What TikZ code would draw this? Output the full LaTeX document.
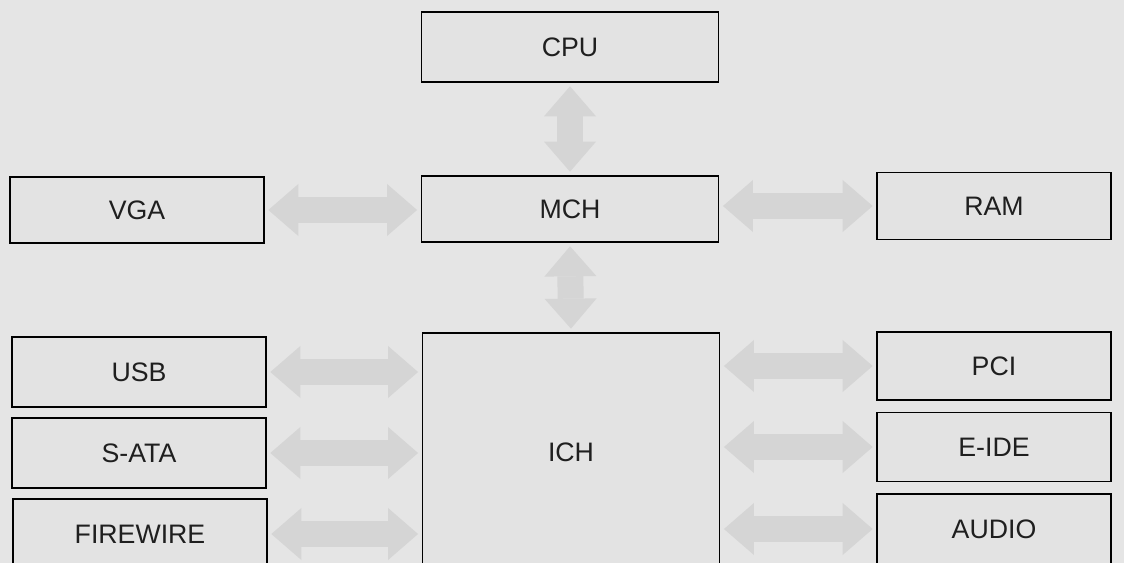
\documentclass[tikz,border=0pt]{standalone}
\usepackage{fontspec}
\setmainfont{Liberation Sans}
\usetikzlibrary{arrows.meta}

\definecolor{paper}{gray}{0.9}
\definecolor{boxgray}{gray}{0.89}
\definecolor{busgray}{gray}{0.835}
\definecolor{inkgray}{gray}{0.12}

\tikzset{
  box/.style={draw=black, line width=1pt, fill=boxgray, text=inkgray,
    font=\fontsize{19}{22}\selectfont, inner sep=0pt},
  bus/.style={draw=busgray, line width=0.65cm,
    {Triangle[length=0.75cm,width=1.3cm,line width=0pt]}-{Triangle[length=0.75cm,width=1.3cm,line width=0pt]},
    shorten <=0.09cm, shorten >=0.09cm}
}

\begin{document}
\begin{tikzpicture}[x=0.025cm, y=-0.025cm]

\fill[paper] (0,0) rectangle (1124,563);
\useasboundingbox (0,0) rectangle (1124,563);
\clip (0,0) rectangle (1124,563);

% north bridge row
\node[box, minimum width=7.43cm, minimum height=1.75cm] (cpu) at (570,47) {CPU};
\node[box, minimum width=7.43cm, minimum height=1.65cm] (mch) at (570,209) {MCH};
\node[box, minimum width=6.35cm, minimum height=1.65cm] (vga) at (137,210) {VGA};
\node[box, minimum width=5.85cm, minimum height=1.68cm] (ram) at (994,206) {RAM};

% south bridge
\node[box, minimum width=7.43cm, minimum height=5.95cm] (ich) at (571,452) {ICH};

\node[box, minimum width=6.35cm, minimum height=1.75cm] (usb) at (139,372) {USB};
\node[box, minimum width=6.35cm, minimum height=1.75cm] (sata) at (139,453) {S-ATA};
\node[box, minimum width=6.35cm, minimum height=1.75cm] (firewire) at (140,534) {FIREWIRE};

\node[box, minimum width=5.85cm, minimum height=1.7cm] (pci) at (994,366) {PCI};
\node[box, minimum width=5.85cm, minimum height=1.72cm] (eide) at (994,447) {E-IDE};
\node[box, minimum width=5.85cm, minimum height=1.75cm] (audio) at (994,529) {AUDIO};

% buses
\draw[bus] (cpu.south) -- (mch.north);
\draw[bus] (mch.south) -- (ich.north);
\draw[bus] (vga.east) -- (vga.east -| mch.west);
\draw[bus] (mch.east |- ram.west) -- (ram.west);

\foreach \dev in {usb, sata, firewire}
  \draw[bus] (\dev.east) -- (\dev.east -| ich.west);
\foreach \dev in {pci, eide, audio}
  \draw[bus] (ich.east |- \dev.west) -- (\dev.west);

\end{tikzpicture}
\end{document}
